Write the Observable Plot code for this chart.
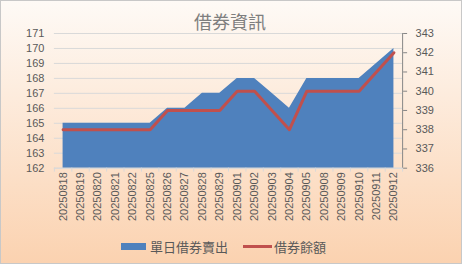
<!DOCTYPE html>
<html><head><meta charset="utf-8">
<script src="https://cdn.jsdelivr.net/npm/d3@7"></script>
<script src="https://cdn.jsdelivr.net/npm/@observablehq/plot@0.6"></script>
<style>
html,body{margin:0;padding:0;}
#wrap{width:462px;height:264px;box-sizing:border-box;border:1px solid #c8c8c8;background:linear-gradient(#fefaf6,#fbd2b0);position:relative;overflow:hidden;font-family:"Liberation Sans","Noto Sans CJK TC",sans-serif;}
#title{position:absolute;left:0;top:8px;width:458px;text-align:center;font:18px "Noto Sans CJK TC",sans-serif;color:#7f7f7f;line-height:24px;}
#chart{position:absolute;left:-1px;top:27px;}
#legend{position:absolute;top:236px;left:120px;display:flex;align-items:center;font:13px "Noto Sans CJK TC",sans-serif;color:#595959;}
.sw{display:inline-block;margin-right:4px;}
</style></head><body>
<div id="wrap"><div id="title">借券資訊</div><div id="chart"></div>
<div id="legend"><span class="sw" style="width:25px;height:7px;background:#4f81bd"></span><span style="margin-right:15px">單日借券賣出</span><span class="sw" style="width:29px;height:3px;background:#c0504d;margin-right:2px"></span><span>借券餘額</span></div>
</div>
<script>
const dates = ["20250818","20250819","20250820","20250821","20250822","20250825","20250826","20250827","20250828","20250829","20250901","20250902","20250903","20250904","20250905","20250908","20250909","20250910","20250911","20250912"];
const sellValues = [165,165,165,165,165,165,166,166,167,167,168,168,167,166,168,168,168,168,169,170];
const balanceValues = [338,338,338,338,338,338,339,339,339,339,340,340,339,338,340,340,340,340,341,342];
const leftTicks = [162,163,164,165,166,167,168,169,170,171];
const rightTicks = [336,337,338,339,340,341,342,343];

const lMin = 162, lMax = 171, rMin = 336, rMax = 343;
const toLeft = r => lMin + (r - rMin) * (lMax - lMin) / (rMax - rMin);
const fromLeft = l => rMin + (l - lMin) * (rMax - rMin) / (lMax - lMin);
const data = dates.map((d, i) => ({i, date: d, sell: sellValues[i], bal: balanceValues[i]}));
const idx = dates.map((d, i) => i);
const bounds = d3.range(-0.5, dates.length, 1);

const chart = Plot.plot({
  width: 462, height: 200,
  marginTop: 5, marginBottom: 60, marginLeft: 54, marginRight: 59,
  style: {background: "transparent", fontFamily: "Liberation Sans, sans-serif", fontSize: "11px", color: "#595959"},
  x: {domain: [-0.5, dates.length - 0.5], label: null},
  y: {domain: [lMin, lMax], label: null},
  marks: [
    Plot.gridY(leftTicks, {stroke: "#d9d9d9", strokeOpacity: 1}),
    Plot.areaY(data, {x: "i", y1: lMin, y2: "sell", fill: "#4f81bd"}),
    Plot.lineY(data, {x: "i", y: d => toLeft(d.bal), stroke: "#c0504d", strokeWidth: 3}),
    Plot.ruleY([lMin], {stroke: "#d9d9d9"}),
    Plot.axisX(bounds, {tickSize: 4, stroke: "#d9d9d9", tickFormat: () => "", label: null}),
    Plot.axisX(idx, {tickSize: 0, tickPadding: 4, tickRotate: -90, tickFormat: i => dates[i], fill: "#595959", fontSize: 11, label: null}),
    Plot.axisY(leftTicks, {anchor: "left", tickSize: 0, tickPadding: 10, fill: "#595959", fontSize: 11, label: null}),
    Plot.ruleX([dates.length - 0.5], {stroke: "#868686"}),
    Plot.axisY(rightTicks.map(toLeft), {anchor: "right", tickSize: 4, tickPadding: 9, stroke: "#868686", fill: "#595959", fontSize: 11, tickFormat: v => Math.round(fromLeft(v)), label: null})
  ]
});
document.getElementById("chart").appendChild(chart);
</script>
</body></html>
